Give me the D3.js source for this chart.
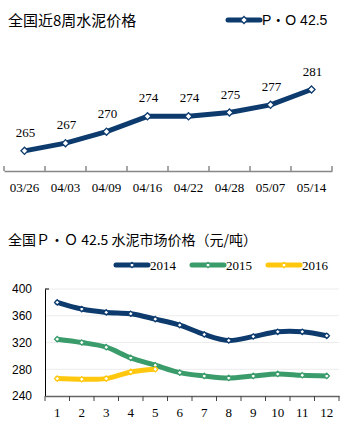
<!doctype html>
<html>
<head>
<meta charset="utf-8">
<script src="https://cdn.jsdelivr.net/npm/d3@7/dist/d3.min.js"></script>
<style>
  body { margin: 0; background: #fff; }
  svg { display: block; }
  .serif { font-family: "Liberation Serif", "Times New Roman", serif; }
  .sans { font-family: "Liberation Sans", Arial, "Noto Sans CJK SC", sans-serif; }
</style>
</head>
<body>
<svg width="352" height="428"></svg>
<script>
// ---- data ----
var weeks = ["03/26", "04/03", "04/09", "04/16", "04/22", "04/28", "05/07", "05/14"];
var weekPrice = [265, 267, 270, 274, 274, 275, 277, 281];

var months = [1, 2, 3, 4, 5, 6, 7, 8, 9, 10, 11, 12];
var y2014 = [380, 370, 365, 363, 355, 346, 332, 323, 329, 336, 336, 330];
var y2015 = [325, 320, 313, 297, 286, 275, 270, 267, 270, 273, 271, 270];
var y2016 = [266, 265, 266, 276, 280];
var yTicks = [240, 280, 320, 360, 400];

var navy = "#0d3b6e", green = "#3a9c6b", yellow = "#ffc80f";
var cjk = '"Noto Sans CJK SC", sans-serif';

var svg = d3.select("svg");

function diamond(g, x, y, color, r) {
  g.append("path")
    .attr("d", d3.symbol().type(d3.symbolDiamond2).size(r * r * 2)())
    .attr("transform", "translate(" + x + "," + y + ")")
    .attr("fill", "#fff")
    .attr("stroke", color)
    .attr("stroke-width", 1.3);
}

// ===== top chart =====
svg.append("text").attr("x", 8).attr("y", 26)
  .style("font-family", cjk).style("font-size", "15px")
  .text("全国近8周水泥价格");

var leg = svg.append("g");
leg.append("line").attr("x1", 228).attr("x2", 260).attr("y1", 20).attr("y2", 20)
  .attr("stroke", navy).attr("stroke-width", 5).attr("stroke-linecap", "round");
diamond(leg, 244, 20, navy, 4);
leg.append("text").attr("x", 262).attr("y", 25).attr("class", "sans")
  .style("font-size", "14px").text("P・O 42.5");

var xTop = d3.scaleBand().domain(weeks).range([4, 332]);
var yTop = d3.scaleLinear().domain([260, 290]).range([170, 55]);

var topAxis = svg.append("g").attr("transform", "translate(0,171)")
  .call(d3.axisBottom(xTop).tickSize(0).tickPadding(12));
topAxis.select(".domain").attr("stroke", "#888").attr("stroke-width", 1.5);
topAxis.selectAll("text").attr("class", "serif").style("font-size", "13px").attr("fill", "#000");
// boundary ticks pointing up
var bounds = d3.range(weeks.length + 1).map(function(i) { return 4 + i * xTop.step(); });
svg.append("g").selectAll("line").data(bounds).join("line")
  .attr("x1", function(d) { return d; }).attr("x2", function(d) { return d; })
  .attr("y1", 166).attr("y2", 171).attr("stroke", "#888").attr("stroke-width", 1.5);

var topLine = d3.line()
  .x(function(d, i) { return xTop(weeks[i]) + xTop.bandwidth() / 2; })
  .y(function(d) { return yTop(d); });
svg.append("path").attr("d", topLine(weekPrice))
  .attr("fill", "none").attr("stroke", navy).attr("stroke-width", 5)
  .attr("stroke-linejoin", "round");
var tp = svg.append("g");
weekPrice.forEach(function(v, i) {
  var x = xTop(weeks[i]) + xTop.bandwidth() / 2;
  diamond(tp, x, yTop(v), navy, 4);
  tp.append("text").attr("x", x + 1).attr("y", yTop(v) - 14).attr("text-anchor", "middle")
    .attr("class", "serif").style("font-size", "13px").text(v);
});

// ===== bottom chart =====
svg.append("text").attr("x", 8).attr("y", 245)
  .style("font-family", cjk).style("font-size", "14px")
  .text("全国Ｐ・Ｏ 42.5 水泥市场价格（元/吨）");

var series = [
  { name: "2014", values: y2014, color: navy },
  { name: "2015", values: y2015, color: green },
  { name: "2016", values: y2016, color: yellow }
];

var lg = svg.append("g");
series.forEach(function(s, i) {
  var x0 = 116 + i * 76;
  lg.append("line").attr("x1", x0).attr("x2", x0 + 32).attr("y1", 265).attr("y2", 265)
    .attr("stroke", s.color).attr("stroke-width", 5).attr("stroke-linecap", "round");
  diamond(lg, x0 + 16, 265, s.color, 3);
  lg.append("text").attr("x", x0 + 34).attr("y", 270).attr("class", "serif")
    .style("font-size", "13px").text(s.name);
});

var xB = d3.scaleBand().domain(months).range([45, 339]);
var yB = d3.scaleLinear().domain([240, 400]).range([396, 289]);

svg.append("g").selectAll("line").data(yTicks.slice(1)).join("line")
  .attr("x1", 45).attr("x2", 339)
  .attr("y1", function(d) { return yB(d); }).attr("y2", function(d) { return yB(d); })
  .attr("stroke", "#ececec").attr("stroke-width", 1);

var yAx = svg.append("g").attr("transform", "translate(45,0)")
  .call(d3.axisLeft(yB).tickValues(yTicks).tickSize(0).tickPadding(13));
yAx.select(".domain").attr("stroke", "#000").attr("stroke-width", 1);
yAx.selectAll("text").attr("class", "sans").style("font-size", "12px").attr("fill", "#000");
svg.append("line").attr("x1", 45).attr("x2", 49).attr("y1", yB(400)).attr("y2", yB(400))
  .attr("stroke", "#000");

var xAx = svg.append("g").attr("transform", "translate(0,396)")
  .call(d3.axisBottom(xB).tickSize(0).tickPadding(12));
xAx.select(".domain").attr("stroke", "#666").attr("stroke-width", 1.5);
xAx.selectAll("text").attr("class", "serif").style("font-size", "13px").attr("fill", "#000");
var bb = d3.range(months.length + 1).map(function(i) { return 45 + i * xB.step(); });
svg.append("g").selectAll("line").data(bb).join("line")
  .attr("x1", function(d) { return d; }).attr("x2", function(d) { return d; })
  .attr("y1", 396).attr("y2", 401).attr("stroke", "#444").attr("stroke-width", 1);

var lineB = d3.line()
  .x(function(d, i) { return xB(months[i]) + xB.bandwidth() / 2; })
  .y(function(d) { return yB(d); })
  .curve(d3.curveCatmullRom.alpha(0.5));

series.forEach(function(s) {
  svg.append("path").attr("d", lineB(s.values))
    .attr("fill", "none").attr("stroke", s.color).attr("stroke-width", 5)
    .attr("stroke-linecap", "round");
});
series.forEach(function(s) {
  var g = svg.append("g");
  s.values.forEach(function(v, i) {
    diamond(g, xB(months[i]) + xB.bandwidth() / 2, yB(v), s.color, 3);
  });
});
</script>
</body>
</html>
